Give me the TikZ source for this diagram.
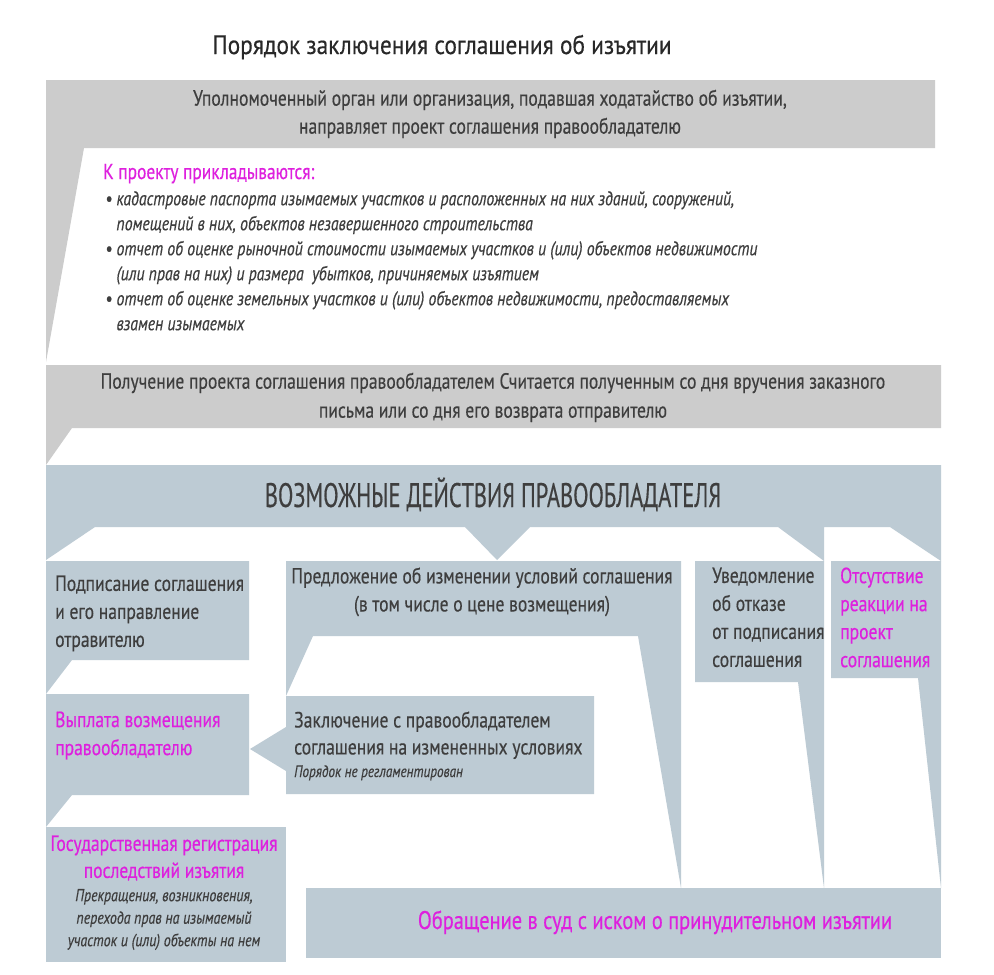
\documentclass[tikz,border=0pt]{standalone}
\usepackage{fontspec}
\setmainfont{PT Sans}[FakeStretch=0.80, FakeBold=0.35]
\newfontfamily\titlef{PT Sans}[FakeStretch=0.88, FakeBold=0.35]
\newfontfamily\capsf{PT Sans}[FakeStretch=0.66, FakeBold=0.35]
\definecolor{boxgray}{RGB}{204,204,204}
\definecolor{boxblue}{RGB}{189,203,212}
\definecolor{txt}{RGB}{62,62,62}
\definecolor{mag}{RGB}{222,32,222}
\tikzset{
  graybox/.style={fill=boxgray},
  bluebox/.style={fill=boxblue},
  lbl/.style={inner sep=0pt, text=txt},
  fz/.style 2 args={font=\fontsize{#1}{#2}\selectfont},
}
\begin{document}
\begin{tikzpicture}[x=1pt,y=-1pt]
\useasboundingbox (0,0) rectangle (994,975);
\fill[white] (0,0) rectangle (994,975);
% shapes
\fill[graybox] (46,80) -- (935,80) -- (935,148) -- (84,148) -- (46,362) -- cycle;
\fill[graybox] (46,365) -- (941,365) -- (941,428) -- (72,428) -- (46,465) -- cycle;
\fill[bluebox] (46,465) -- (941,465) -- (941,561) -- (890,527) -- (824,527) -- (824,561)
   -- (778,527) -- (530,527) -- (497,560) -- (465,527) -- (95,527) -- (46,560) -- cycle;
\fill[bluebox] (46,561) -- (249,561) -- (249,660) -- (72,660) -- (46,694) -- cycle;
\fill[bluebox] (46,694) -- (249,694) -- (249,795) -- (72,795) -- (46,827) -- cycle;
\fill[bluebox] (46,827) rectangle (286,962);
\fill[bluebox] (286,561) -- (681,561) -- (681,888) -- (638,636) -- (313,636) -- (286,696) -- cycle;
\fill[bluebox] (286,696) -- (594,696) -- (594,794) -- (286,794) -- (286,771) -- (250,749) -- (286,727) -- cycle;
\fill[bluebox] (695,561) -- (824,561) -- (824,888) -- (798,682) -- (695,682) -- cycle;
\fill[bluebox] (831,561) -- (941,561) -- (941,888) -- (918,678) -- (831,678) -- cycle;
\fill[bluebox] (306,888) rectangle (941,958);
% texts
\node[lbl, anchor=base, font=\titlef\fontsize{26.5}{30}\selectfont, text={rgb,255:red,40;green,40;blue,40}] (title) at (442,54)
  {Порядок заключения соглашения об изъятии};
\node[lbl, anchor=north, align=center, fz={22}{28}] (t1) at (490,89.5)
  {Уполномоченный орган или организация, подавшая ходатайство об изъятии,\\
   направляет проект соглашения правообладателю};
\node[lbl, anchor=base west, fz={21.7}{28}, text=mag] (attach) at (103,179) {К проекту прикладываются:};
\node[lbl, anchor=north west, align=left, font=\itshape\fontsize{19.7}{25}\selectfont] (bul) at (105,191)
  {•\ кадастровые паспорта изымаемых участков и расположенных на них зданий, сооружений,\\
   \phantom{•\ }помещений в них, объектов незавершенного строительства\\
   •\ отчет об оценке рыночной стоимости изымаемых участков и (или) объектов недвижимости\\
   \phantom{•\ }(или прав на них) и размера \ убытков, причиняемых изъятием\\
   •\ отчет об оценке земельных участков и (или) объектов недвижимости, предоставляемых\\
   \phantom{•\ }взамен изымаемых};
\node[lbl, anchor=north, align=center, fz={22}{29}] (t2) at (493,372.5)
  {Получение проекта соглашения правообладателем Считается полученным со дня вручения заказного\\
   письма или со дня его возврата отправителю};
\node[lbl, anchor=base, font=\capsf\fontsize{34}{40}\selectfont] (hdr) at (493,507)
  {ВОЗМОЖНЫЕ ДЕЙСТВИЯ ПРАВООБЛАДАТЕЛЯ};
\node[lbl, anchor=north west, align=left, fz={22}{28}] (sign) at (55,575.3)
  {Подписание соглашения\\и его направление\\отравителю};
\node[lbl, anchor=north west, align=left, fz={22}{28}, text=mag] (pay) at (55,711.3)
  {Выплата возмещения\\правообладателю};
\node[lbl, anchor=north, align=center, fz={22}{28}] (prop) at (482,567.3)
  {Предложение об изменении условий соглашения\\(в том числе о цене возмещения)};
\node[lbl, anchor=north west, align=left, fz={22}{27}] (concl) at (294,711.3)
  {Заключение с правообладателем\\соглашения на измененных условиях};
\node[lbl, anchor=base west, font=\itshape\fontsize{16.5}{18}\selectfont] (concln) at (294,777)
  {Порядок не регламентирован};
\node[lbl, anchor=north west, align=left, fz={22}{28}] (refuse) at (712,567.3)
  {Уведомление\\об отказе\\от подписания\\соглашения};
\node[lbl, anchor=north west, align=left, fz={22}{28}, text=mag] (noreact) at (840,567.3)
  {Отсутствие\\реакции на\\проект\\соглашения};
\node[lbl, anchor=north, align=center, fz={22}{27}, text=mag] (reg) at (164,835.3)
  {Государственная регистрация\\последствий изъятия};
\node[lbl, anchor=north, align=center, font=\itshape\fontsize{17.4}{22.5}\selectfont] (regn) at (164,888.8)
  {Прекращения, возникновения,\\перехода прав на изымаемый\\участок и (или) объекты на нем};
\node[lbl, anchor=base, fz={25.5}{28}, text=mag] (court) at (655,929)
  {Обращение в суд с иском о принудительном изъятии};
\end{tikzpicture}
\end{document}
